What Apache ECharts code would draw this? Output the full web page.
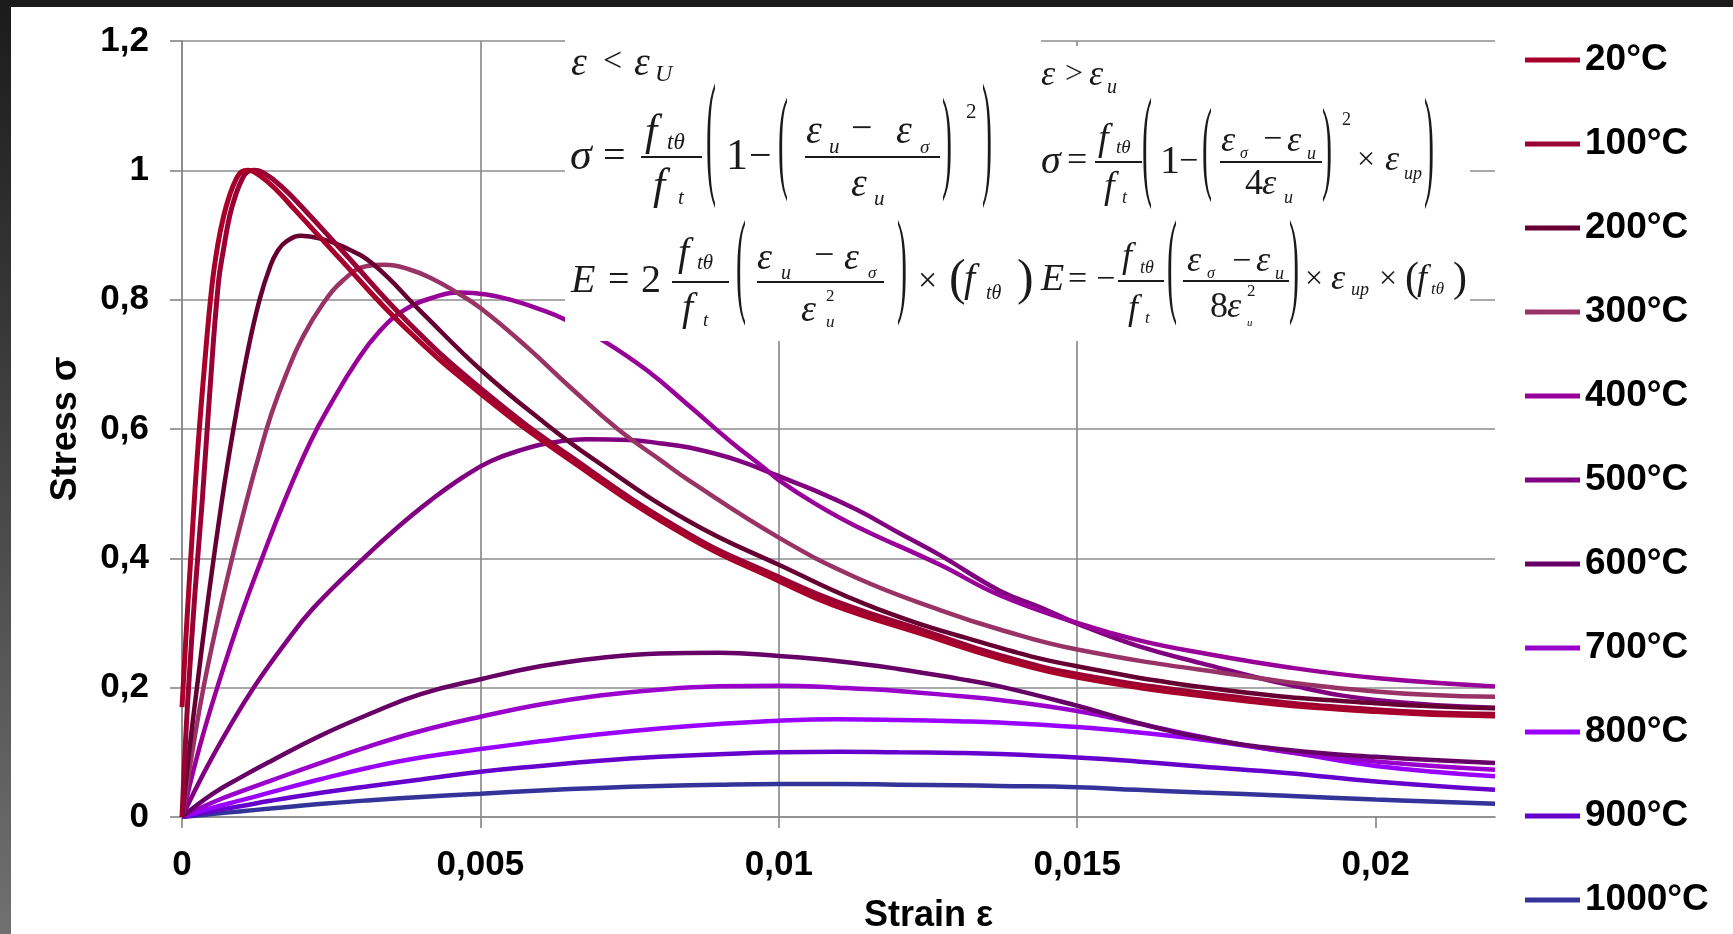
<!DOCTYPE html>
<html>
<head>
<meta charset="utf-8">
<title>Stress - strain</title>
<script src="https://cdn.jsdelivr.net/npm/echarts@6/dist/echarts.min.js"></script>
<style>
html, body { margin: 0; padding: 0; width: 1733px; height: 934px; overflow: hidden;
  background: linear-gradient(180deg, #1b1b1b 0%, #3c3c3c 40%, #707070 100%); }
#paper { position: absolute; left: 11px; top: 7px; right: 0; bottom: 0; background: #fff; }
#chart { position: absolute; left: 0; top: 0; width: 1733px; height: 934px; }
</style>
</head>
<body>
<div id="paper"></div>
<div id="chart"></div>
<script>
// strain / stress pairs
var t20 = [[0,0.17],[0.00008,0.3],[0.00016,0.42],[0.00025,0.55],[0.00037,0.69],[0.0005,0.82],[0.0006,0.885],[0.0007,0.93],[0.0008,0.962],[0.0009,0.985],[0.001,0.998],[0.0011,1.0],[0.0013,0.992],[0.0016,0.968],[0.0019,0.938],[0.0026,0.868],[0.0037,0.76],[0.005,0.655],[0.0065,0.552],[0.0085,0.432],[0.01,0.365],[0.0109,0.328],[0.0125,0.28],[0.0137,0.245],[0.015,0.216],[0.0175,0.183],[0.02,0.163],[0.022,0.156]];
var t100 = [[0,0],[0.00005,0.1],[0.00011,0.2],[0.00022,0.35],[0.00034,0.49],[0.00046,0.65],[0.00061,0.826],[0.0007,0.88],[0.0008,0.93],[0.0009,0.962],[0.001,0.985],[0.0011,0.998],[0.0012,1.0],[0.0014,0.994],[0.0017,0.972],[0.002,0.944],[0.0027,0.874],[0.0038,0.764],[0.005,0.663],[0.0065,0.558],[0.0085,0.437],[0.01,0.371],[0.011,0.332],[0.0125,0.286],[0.0137,0.25],[0.015,0.221],[0.0175,0.187],[0.02,0.166],[0.022,0.159]];
var t200 = [[0,0],[0.0001,0.085],[0.00025,0.2],[0.00045,0.345],[0.00067,0.49],[0.00078,0.555],[0.0009,0.62],[0.00109,0.715],[0.0013,0.8],[0.00148,0.852],[0.0016,0.875],[0.00175,0.89],[0.002,0.899],[0.0023,0.895],[0.0027,0.882],[0.0032,0.855],[0.004,0.782],[0.005,0.692],[0.006,0.615],[0.0069,0.553],[0.0085,0.457],[0.01,0.39],[0.01165,0.322],[0.0137,0.262],[0.015,0.233],[0.0175,0.196],[0.02,0.176],[0.022,0.168]];
var t300 = [[0,0],[0.00018,0.105],[0.00036,0.2],[0.0006,0.305],[0.00084,0.4],[0.00108,0.488],[0.00125,0.546],[0.0015,0.624],[0.0018,0.697],[0.002,0.738],[0.00232,0.788],[0.0027,0.83],[0.0031,0.852],[0.0034,0.854],[0.0038,0.847],[0.0042,0.832],[0.00455,0.814],[0.005,0.787],[0.0058,0.725],[0.0065,0.665],[0.0073,0.6],[0.008,0.553],[0.0085,0.52],[0.01,0.432],[0.0113,0.37],[0.0127,0.32],[0.0137,0.29],[0.015,0.259],[0.0175,0.222],[0.02,0.194],[0.022,0.186]];
var t400 = [[0,0],[0.0003,0.11],[0.00059,0.2],[0.001,0.315],[0.00134,0.4],[0.0017,0.485],[0.00215,0.58],[0.0025,0.64],[0.00293,0.705],[0.0033,0.75],[0.00371,0.783],[0.0042,0.803],[0.00467,0.811],[0.0051,0.808],[0.0055,0.8],[0.006,0.785],[0.0064,0.77],[0.00707,0.736],[0.0078,0.69],[0.00852,0.634],[0.0092,0.58],[0.00975,0.54],[0.01,0.521],[0.0106,0.485],[0.01131,0.449],[0.0127,0.39],[0.0137,0.343],[0.015,0.30],[0.016,0.274],[0.01707,0.254],[0.0185,0.232],[0.02,0.215],[0.022,0.202]];
var t500 = [[0,0],[0.0004,0.074],[0.0008,0.14],[0.0012,0.2],[0.0017,0.265],[0.0022,0.323],[0.0031,0.405],[0.0036,0.447],[0.00417,0.49],[0.0047,0.525],[0.00517,0.55],[0.0057,0.568],[0.0062,0.579],[0.0068,0.584],[0.0075,0.583],[0.008,0.578],[0.00852,0.571],[0.0093,0.552],[0.01,0.527],[0.0106,0.505],[0.01131,0.475],[0.012,0.44],[0.0127,0.405],[0.0137,0.35],[0.01439,0.324],[0.015,0.299],[0.016,0.265],[0.01707,0.238],[0.01857,0.204],[0.02,0.181],[0.022,0.169]];
var t600 = [[0,0],[0.0005,0.035],[0.001,0.062],[0.00148,0.086],[0.0023,0.125],[0.00316,0.16],[0.004,0.19],[0.005,0.213],[0.006,0.233],[0.007,0.246],[0.008,0.253],[0.009,0.254],[0.01,0.249],[0.011,0.241],[0.012,0.229],[0.013,0.214],[0.0137,0.202],[0.015,0.172],[0.016,0.146],[0.01707,0.123],[0.0185,0.104],[0.02,0.093],[0.022,0.0835]];
var t700 = [[0,0],[0.0005,0.022],[0.001,0.04],[0.00148,0.056],[0.0023,0.083],[0.00316,0.11],[0.004,0.133],[0.005,0.155],[0.006,0.174],[0.007,0.188],[0.008,0.197],[0.009,0.202],[0.01,0.203],[0.011,0.2],[0.012,0.195],[0.013,0.187],[0.0137,0.181],[0.015,0.164],[0.016,0.145],[0.01707,0.124],[0.0185,0.101],[0.02,0.086],[0.022,0.073]];
var t800 = [[0,0],[0.0005,0.014],[0.001,0.026],[0.00148,0.038],[0.0023,0.058],[0.00316,0.077],[0.004,0.092],[0.005,0.105],[0.006,0.117],[0.007,0.128],[0.008,0.137],[0.009,0.144],[0.01,0.149],[0.011,0.151],[0.012,0.15],[0.013,0.148],[0.0137,0.146],[0.015,0.139],[0.016,0.131],[0.01707,0.12],[0.01857,0.1],[0.02,0.079],[0.022,0.063]];
var t900 = [[0,0],[0.0005,0.009],[0.001,0.017],[0.00148,0.025],[0.0023,0.037],[0.00316,0.048],[0.004,0.058],[0.005,0.07],[0.006,0.079],[0.007,0.087],[0.008,0.093],[0.009,0.097],[0.01,0.1],[0.011,0.101],[0.012,0.1],[0.013,0.099],[0.0137,0.0974],[0.015,0.092],[0.016,0.086],[0.01707,0.078],[0.0185,0.068],[0.02,0.055],[0.022,0.042]];
var t1000 = [[0,0],[0.0005,0.0045],[0.001,0.009],[0.00148,0.013],[0.0023,0.02],[0.00316,0.026],[0.004,0.031],[0.005,0.036],[0.006,0.041],[0.007,0.045],[0.008,0.048],[0.009,0.05],[0.01,0.051],[0.011,0.051],[0.012,0.05],[0.013,0.049],[0.0137,0.048],[0.015,0.046],[0.016,0.042],[0.01707,0.038],[0.0185,0.033],[0.02,0.027],[0.022,0.0206]];

var temps = ['20°C', '100°C', '200°C', '300°C', '400°C', '500°C', '600°C', '700°C', '800°C', '900°C', '1000°C'];
var curves = [t20, t100, t200, t300, t400, t500, t600, t700, t800, t900, t1000];
var colors = ['#a8002a', '#990033', '#660033', '#993366', '#990099', '#800080', '#660066', '#9900cc', '#9900ff', '#6600cc', '#333399'];
var xTicks = [0, 0.005, 0.01, 0.015, 0.02];

var sans = '"Liberation Sans", Arial, sans-serif';
var serif = '"Liberation Serif", "DejaVu Serif", serif';
var gridGrey = '#8c8c8c';
var ink = '#1a1a1a';

function comma(v) {
    return String(+(+v).toFixed(4)).replace('.', ',');
}

// equation pieces (pasted formula box in the original)
function sym(text, x, y, size, italic) {
    return {
        type: 'text', x: x, y: y, z: 100, silent: true,
        style: {
            text: text, fill: ink, fontFamily: serif, fontSize: size,
            fontStyle: italic ? 'italic' : 'normal',
            align: 'left', verticalAlign: 'middle'
        }
    };
}
function bar(x1, x2, y) {
    return { type: 'line', z: 100, silent: true, shape: { x1: x1, y1: y, x2: x2, y2: y },
             style: { stroke: ink, lineWidth: 1.8 } };
}
function paren(ch, x, top, bottom) {
    var k = (bottom - top) / 26;
    return {
        type: 'text', x: x, y: (top + bottom) / 2 - 2.5 * k, z: 100, silent: true,
        scaleY: k, originX: 0, originY: 0,
        style: { text: ch, fill: ink, fontFamily: serif, fontSize: 30,
                 align: 'left', verticalAlign: 'middle' }
    };
}

var eq = [
    { type: 'rect', z: 90, silent: true, shape: { x: 565, y: 32, width: 476, height: 309 }, style: { fill: '#fff' } },
    { type: 'rect', z: 90, silent: true, shape: { x: 1041, y: 46, width: 429, height: 295 }, style: { fill: '#fff' } },

    // ε < εU
    sym('ε', 571, 64, 40, true), sym('<', 603, 62, 34, false), sym('ε', 634, 64, 40, true), sym('U', 655, 75, 24, true),
    // σ row, left
    sym('σ', 570, 157, 44, true), sym('=', 603, 157, 40, false),
    sym('f', 645, 133, 44, true), sym('tθ', 667, 143, 23, true), bar(641, 702, 157),
    sym('f', 653, 187, 44, true), sym('t', 678, 198, 21, true),
    paren('(', 706, 95, 214), sym('1', 726, 157, 44, false), sym('−', 749, 157, 40, false),
    paren('(', 778, 106, 206),
    sym('ε', 806, 132, 40, true), sym('u', 829, 147, 21, true), sym('−', 851, 130, 38, false),
    sym('ε', 896, 132, 40, true), sym('σ', 920, 148, 19, true), bar(805, 940, 157),
    sym('ε', 851, 185, 40, true), sym('u', 874, 199, 21, true),
    paren(')', 942, 106, 206), sym('2', 966, 112, 21, false), paren(')', 982, 95, 214),
    // E row, left
    sym('E', 571, 281, 40, true), sym('=', 608, 281, 38, false), sym('2', 641, 281, 40, false),
    sym('f', 678, 254, 40, true), sym('tθ', 697, 263, 21, true), bar(672, 729, 282),
    sym('f', 682, 309, 40, true), sym('t', 703, 321, 19, true),
    paren('(', 736, 230, 331),
    sym('ε', 757, 259, 38, true), sym('u', 781, 274, 20, true), sym('−', 814, 257, 36, false),
    sym('ε', 844, 259, 38, true), sym('σ', 868, 274, 17, true), bar(757, 884, 282),
    sym('ε', 801, 311, 38, true), sym('2', 826, 297, 17, false), sym('u', 826, 323, 17, true),
    paren(')', 897, 230, 331),
    sym('×', 918, 282, 34, false), sym('(', 949, 281, 50, false), sym('f', 964, 280, 40, true),
    sym('tθ', 986, 294, 20, true), sym(')', 1017, 281, 50, false),

    // ε > εu
    sym('ε', 1041, 76, 36, true), sym('>', 1065, 75, 32, false), sym('ε', 1089, 76, 36, true), sym('u', 1107, 88, 20, true),
    // σ row, right
    sym('σ', 1041, 162, 40, true), sym('=', 1067, 162, 36, false),
    sym('f', 1098, 140, 38, true), sym('tθ', 1116, 148, 19, true), bar(1095, 1142, 162),
    sym('f', 1104, 188, 38, true), sym('t', 1122, 198, 18, true),
    paren('(', 1142, 107, 214), sym('1', 1160, 162, 40, false), sym('−', 1179, 162, 34, false),
    paren('(', 1202, 117, 206),
    sym('ε', 1221, 142, 36, true), sym('σ', 1240, 154, 16, true), sym('−', 1263, 140, 34, false),
    sym('ε', 1287, 142, 36, true), sym('u', 1307, 154, 18, true), bar(1220, 1322, 162),
    sym('4', 1245, 185, 36, false), sym('ε', 1262, 185, 36, true), sym('u', 1284, 198, 18, true),
    paren(')', 1322, 117, 206), sym('2', 1342, 120, 18, false),
    sym('×', 1357, 161, 32, false), sym('ε', 1385, 161, 36, true), sym('up', 1404, 174, 18, true),
    paren(')', 1424, 107, 214),
    // E row, right
    sym('E', 1041, 280, 38, true), sym('=', 1068, 280, 34, false), sym('−', 1096, 280, 34, false),
    sym('f', 1122, 258, 36, true), sym('tθ', 1140, 268, 18, true), bar(1118, 1164, 281),
    sym('f', 1128, 310, 36, true), sym('t', 1145, 319, 17, true),
    paren('(', 1167, 230, 331),
    sym('ε', 1187, 262, 36, true), sym('σ', 1207, 274, 16, true), sym('−', 1232, 262, 34, false),
    sym('ε', 1256, 262, 36, true), sym('u', 1275, 274, 18, true), bar(1183, 1289, 281),
    sym('8', 1210, 308, 36, false), sym('ε', 1227, 308, 36, true), sym('2', 1247, 292, 17, false), sym('u', 1247, 323, 11, true),
    paren(')', 1289, 230, 331),
    sym('×', 1305, 280, 32, false), sym('ε', 1331, 280, 36, true), sym('up', 1351, 290, 18, true),
    sym('×', 1379, 280, 32, false), sym('(', 1405, 280, 42, false), sym('f', 1417, 280, 36, true),
    sym('tθ', 1431, 290, 17, true), sym(')', 1453, 280, 42, false)
];

var chart = echarts.init(document.getElementById('chart'), null, { renderer: 'canvas' });

var series = [];
for (var i = 0; i < temps.length; i++) {
    series.push({
        name: temps[i],
        type: 'line',
        data: curves[i],
        smooth: 0.45,
        showSymbol: false,
        color: colors[i],
        lineStyle: { color: colors[i], width: i < 2 ? 5 : 4.5 },
        z: 2 + (temps.length - i) * 0.01
    });
}

var option = {
    animation: false,
    backgroundColor: 'transparent',
    color: colors,
    grid: { left: 182, right: 238, top: 41, bottom: 117, containLabel: false, outerBoundsMode: 'none' },
    legend: {
        orient: 'vertical',
        left: 1520,
        top: 35,
        itemWidth: 55,
        itemHeight: 5,
        itemGap: 44,
        icon: 'rect',
        data: temps,
        textStyle: { fontFamily: sans, fontSize: 37, fontWeight: 'bold', color: '#000', lineHeight: 40 }
    },
    xAxis: {
        type: 'value',
        min: 0,
        max: 0.022,
        interval: 0.005,
        name: 'Strain ε',
        nameLocation: 'middle',
        nameGap: 81,
        nameTextStyle: { fontFamily: sans, fontSize: 36, fontWeight: 'bold', color: '#000', padding: [0, 0, 0, 180] },
        axisLine: { show: true, lineStyle: { color: gridGrey, width: 1.7 } },
        axisTick: { show: true, length: 11, customValues: xTicks, lineStyle: { color: gridGrey, width: 1.7 } },
        axisLabel: {
            customValues: xTicks,
            margin: 31,
            fontFamily: sans, fontSize: 35, fontWeight: 'bold', color: '#000',
            formatter: function (v) { return v > 0.0201 ? '' : comma(v); }
        },
        splitLine: { show: true, showMaxLine: false, lineStyle: { color: gridGrey, width: 1.7 } }
    },
    yAxis: {
        type: 'value',
        min: 0,
        max: 1.2,
        interval: 0.2,
        name: 'Stress σ',
        nameLocation: 'middle',
        nameGap: 98,
        nameTextStyle: { fontFamily: sans, fontSize: 36, fontWeight: 'bold', color: '#000' },
        axisLine: { show: true, lineStyle: { color: gridGrey, width: 1.7 } },
        axisTick: { show: true, length: 12, lineStyle: { color: gridGrey, width: 1.7 } },
        axisLabel: {
            margin: 33,
            fontFamily: sans, fontSize: 35, fontWeight: 'bold', color: '#000',
            formatter: comma
        },
        splitLine: { show: true, lineStyle: { color: gridGrey, width: 1.7 } }
    },
    graphic: { elements: eq },
    series: series
};

chart.setOption(option);
</script>
</body>
</html>
